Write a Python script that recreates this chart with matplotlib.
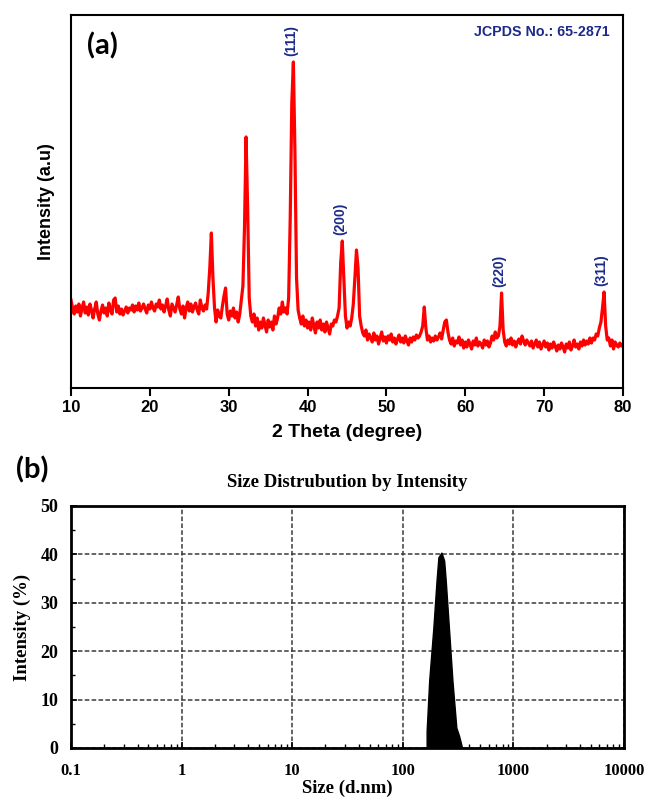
import numpy as np
import matplotlib.pyplot as plt
from matplotlib.ticker import MultipleLocator, LogLocator, NullFormatter

# ---- (a) XRD pattern, 0.2 degree steps from 10 to 80 ----
two_theta = np.round(np.arange(10.0, 80.01, 0.2), 1)
intensity = [
    88, 80, 74, 82, 76, 84, 72, 80, 86, 75,      # 10
    81, 73, 84, 78, 70, 79, 86, 74, 68, 77,      # 12
    83, 75, 80, 72, 85, 78, 74, 88, 90, 76,      # 14
    82, 74, 79, 73, 77, 81, 75, 80, 78, 83,      # 16
    76, 82, 78, 85, 77, 80, 84, 79, 75, 83,      # 18
    79, 86, 80, 77, 84, 81, 88, 79, 83, 76,      # 20
    82, 89, 78, 72, 84, 80, 76, 83, 91, 79,      # 22
    74, 82, 70, 80, 86, 77, 84, 76, 81, 85,      # 24
    78, 74, 88, 80, 77, 83, 79, 95, 120, 155,    # 26
    110, 80, 66, 78, 72, 70, 82, 92, 100, 74,    # 28
    68, 77, 72, 80, 70, 76, 66, 74, 88, 102,     # 30
    160, 251, 180, 90, 72, 66, 74, 62, 70, 58,   # 32
    66, 60, 70, 63, 56, 68, 61, 66, 58, 72,      # 34
    64, 70, 80, 74, 86, 76, 80, 74, 90, 170,     # 36
    285, 326, 235, 110, 78, 70, 64, 72, 62, 68,  # 38
    60, 66, 58, 70, 62, 55, 66, 60, 68, 58,      # 40
    64, 56, 66, 60, 54, 64, 62, 68, 66, 72,      # 42
    80, 125, 147, 110, 72, 60, 66, 62, 70, 84,   # 44
    110, 138, 120, 72, 62, 55, 52, 58, 48, 54,   # 46
    50, 46, 55, 48, 52, 44, 50, 56, 47, 51,      # 48
    45, 52, 48, 54, 46, 50, 44, 49, 53, 46,      # 50
    50, 45, 52, 47, 43, 50, 46, 51, 48, 53,      # 52
    50, 52, 56, 62, 81, 60, 48, 52, 46, 50,      # 54
    47, 52, 48, 51, 55, 49, 58, 66, 68, 56,      # 56
    48, 44, 50, 42, 47, 45, 51, 43, 48, 40,      # 58
    46, 41, 48, 44, 39, 47, 43, 50, 42, 46,      # 60
    44, 40, 48, 43, 47, 41, 45, 52, 48, 56,      # 62
    50, 52, 62, 95, 58, 46, 42, 48, 44, 50,      # 64
    43, 47, 41, 46, 49, 44, 52, 47, 43, 48,      # 66
    45, 42, 47, 40, 44, 48, 41, 46, 39, 43,      # 68
    47, 41, 45, 38, 44, 40, 46, 42, 37, 43,      # 70
    39, 45, 41, 36, 44, 40, 46, 38, 42, 48,      # 72
    41, 44, 39, 46, 42, 48, 43, 47, 44, 50,      # 74
    45, 50, 48, 54, 52, 60, 66, 80, 96, 62,      # 76
    48, 50, 42, 48, 39, 46, 43, 41, 45, 42,      # 78
    44,                                          # 80
]
hkl_labels = ['(111)', '(200)', '(220)', '(311)']
hkl_pos = [38.2, 44.4, 64.6, 77.6]

# ---- (b) DLS size distribution ----
size_nm = [166, 166, 175, 191, 204, 212, 226, 239, 247, 265, 284, 308, 326, 344, 344]
intensity_pct = [0, 3.4, 13.8, 24.8, 34.5, 39.3, 40.3, 38.6, 34.5, 24.1, 13.8, 4.1, 2.4, 0.3, 0]
size_ticks = [0.1, 1, 10, 100, 1000, 10000]
size_tick_labels = ['0.1', '1', '10', '100', '1000', '10000']

navy = '#1c2a8a'
sans = 'Liberation Sans'
serif = 'Liberation Serif'

fig = plt.figure(figsize=(6.45, 8.0), dpi=100)

# top panel
ax1 = fig.add_axes([71/645, 1-388/800, 552/645, 373/800])
ax1.plot(two_theta, intensity, color='#ff0000', lw=2.3)
ax1.set_xlim(10, 80)
ax1.set_ylim(0, 373)
ax1.set_yticks([])
ax1.set_xticks(range(10, 81, 10), [str(v) for v in range(10, 81, 10)],
               fontfamily=sans, fontweight='bold', fontsize=12)
ax1.tick_params(axis='x', direction='out', length=6, width=1.5, pad=3)
for s in ax1.spines.values():
    s.set_linewidth(1.5)
ax1.set_xlabel('2 Theta (degree)', fontfamily=sans, fontweight='bold', fontsize=14, labelpad=6)
ax1.set_ylabel('Intensity (a.u)', fontfamily=sans, fontweight='bold', fontsize=13)
ax1.yaxis.set_label_coords((55 - 71) / 552, 0.5)

for lab, pos in zip(hkl_labels, hkl_pos):
    peak = intensity[int(round((pos - 10) / 0.2))]
    ax1.text(pos - 0.3, peak + 6, lab, rotation=90, ha='center', va='bottom',
             color=navy, fontfamily=sans, fontweight='bold', fontsize=10)

ax1.text(0.976, 0.955, 'JCPDS No.: 65-2871', transform=ax1.transAxes, ha='right', va='center',
         color=navy, fontfamily=sans, fontweight='bold', fontsize=10.3)
fig.text(87/645, 1-46/800, '(a)', fontfamily='Lato', fontweight='bold', fontsize=21, va='center')

# bottom panel
ax2 = fig.add_axes([71/645, 1-748/800, 553/645, 242/800])
ax2.set_xscale('log')
ax2.set_xlim(0.1, 10000)
ax2.set_ylim(0, 50)
ax2.grid(True, which='major', linestyle=(0, (3, 1.5)), color='#3a3a3a', linewidth=1.1)
ax2.fill(size_nm, intensity_pct, color='black', zorder=3)
ax2.set_xticks(size_ticks, size_tick_labels, fontfamily=serif, fontweight='bold', fontsize=12)
ax2.xaxis.set_minor_locator(LogLocator(base=10, subs=np.arange(2, 10)))
ax2.xaxis.set_minor_formatter(NullFormatter())
ax2.set_yticks(range(0, 51, 10), [str(v) for v in range(0, 51, 10)],
               fontfamily=serif, fontweight='bold', fontsize=13)
ax2.yaxis.set_minor_locator(MultipleLocator(5))
ax2.tick_params(which='major', direction='in', length=4, width=1.2)
ax2.tick_params(axis='x', which='major', pad=11)
ax2.tick_params(axis='y', which='major', pad=9)
ax2.tick_params(which='minor', direction='in', length=3, width=1)
for s in ax2.spines.values():
    s.set_linewidth(2)
ax2.set_title('Size Distrubution by Intensity', fontfamily=serif, fontweight='bold', fontsize=13.5, pad=14)
ax2.set_xlabel('Size (d.nm)', fontfamily=serif, fontweight='bold', fontsize=13.5)
ax2.xaxis.set_label_coords(0.5, (748 - 780) / 242)
ax2.set_ylabel('Intensity (%)', fontfamily=serif, fontweight='bold', fontsize=13.5)
ax2.yaxis.set_label_coords((31 - 71) / 553, 0.5)
fig.text(16/645, 1-470/800, '(b)', fontfamily='Lato', fontweight='bold', fontsize=21, va='center')

fig.savefig('out.png', dpi=100)
